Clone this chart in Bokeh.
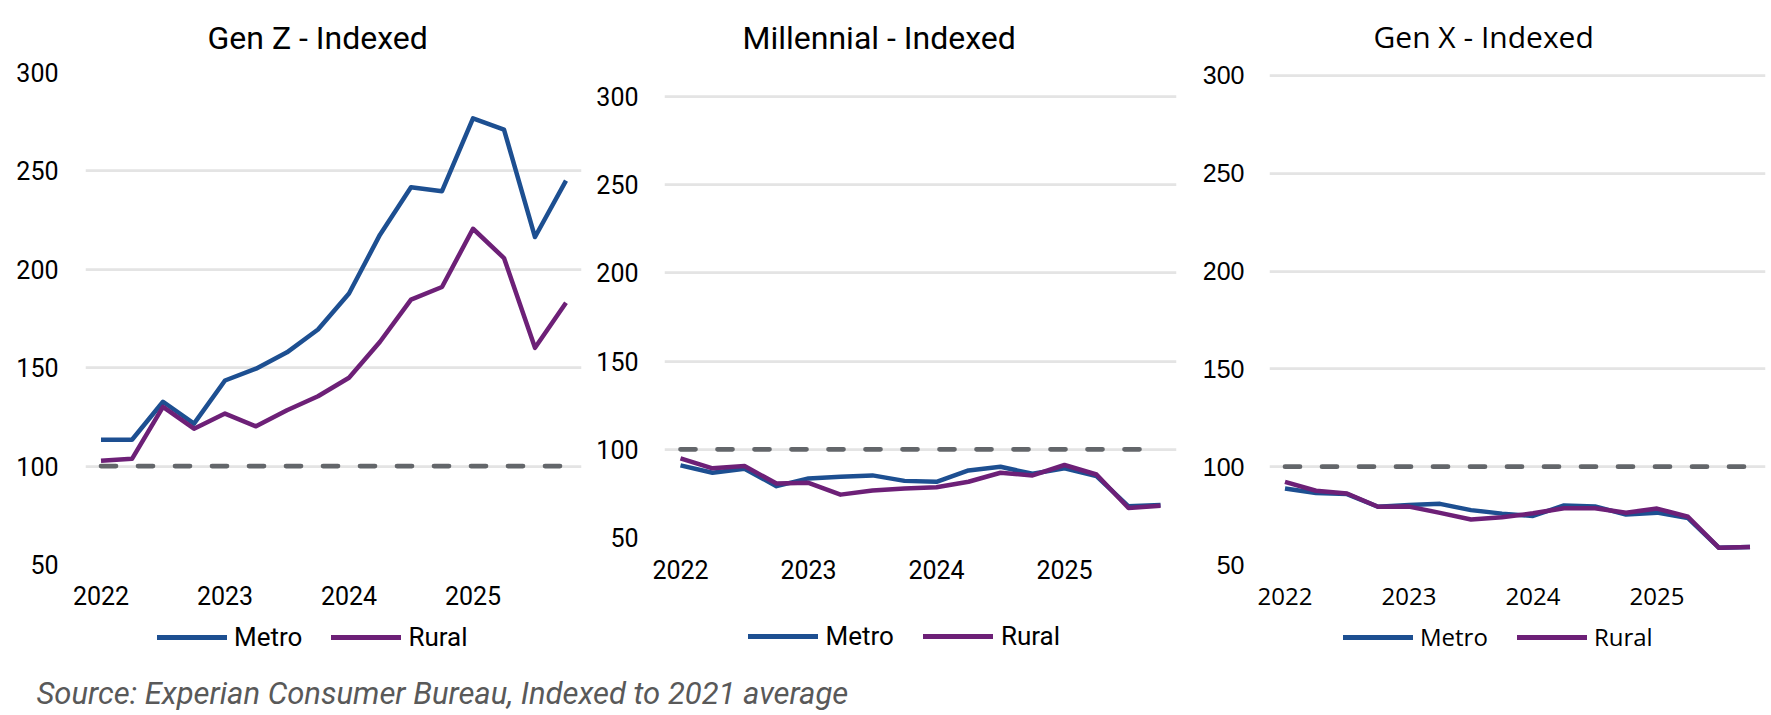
from bokeh.plotting import figure
from bokeh.models import Range1d, FixedTicker, Legend, LegendItem, Title, Label
from bokeh.layouts import row, column
from bokeh.embed import file_html
from bokeh.resources import INLINE

quarters = ["2022 Q1", "2022 Q2", "2022 Q3", "2022 Q4",
            "2023 Q1", "2023 Q2", "2023 Q3", "2023 Q4",
            "2024 Q1", "2024 Q2", "2024 Q3", "2024 Q4",
            "2025 Q1", "2025 Q2", "2025 Q3", "2025 Q4"]
year_ticks = [0, 4, 8, 12]
year_labels = ["2022", "2023", "2024", "2025"]
y_ticks = [50, 100, 150, 200, 250, 300]

genz_metro = [113.4, 113.4, 132.7, 121.6, 143.5, 149.5, 157.8, 169.4,
              187.7, 217.6, 241.7, 239.7, 276.7, 271.0, 216.4, 245.1]
genz_rural = [102.7, 103.7, 130.1, 119.0, 126.7, 120.2, 128.4, 135.5,
              144.9, 163.2, 184.6, 191.0, 220.6, 205.7, 160.1, 183.0]

mill_metro = [90.9, 86.7, 89.0, 79.1, 83.5, 84.4, 85.2, 82.1,
              81.6, 88.0, 90.1, 86.1, 89.2, 84.8, 67.7, 68.4]
mill_rural = [94.9, 89.2, 90.5, 80.6, 81.0, 74.3, 76.6, 77.8,
              78.5, 81.6, 86.7, 85.2, 91.1, 85.7, 66.7, 68.0]

genx_metro = [88.9, 86.5, 86.0, 79.5, 80.4, 81.0, 77.8, 76.0,
              74.8, 80.2, 79.7, 75.5, 76.5, 73.7, 58.5, 59.0]
genx_rural = [92.2, 87.7, 86.3, 79.5, 79.6, 76.4, 73.0, 74.1,
              76.2, 78.8, 78.8, 76.5, 78.6, 74.4, 58.5, 59.0]

baseline = [100, 100, 100, 100, 100, 100, 100, 100,
            100, 100, 100, 100, 100, 100, 100, 100]

series_names = ["Metro", "Rural"]
source_text = "Source: Experian Consumer Bureau, Indexed to 2021 average"

METRO = "#1D4F91"
RURAL = "#6D2077"
GREY = "#63666A"
GRID = "#E4E4E4"


def panel(title, metro, rural, fw, fh, ytop, bl, br, bt, bb,
          title_font, title_size, title_offset, title_standoff,
          ytick_font, ytick_size, xtick_font, xtick_size,
          y_standoff, x_standoff):
    xs = list(range(len(quarters)))
    p = figure(frame_width=fw, frame_height=fh, output_backend="svg",
               toolbar_location=None,
               x_range=Range1d(-0.5, len(quarters) - 0.5),
               y_range=Range1d(50, ytop),
               min_border_left=bl, min_border_right=br,
               min_border_top=bt, min_border_bottom=bb)
    p.title.text = ""
    p.title.visible = False
    p.outline_line_color = None
    p.background_fill_color = "white"
    p.border_fill_color = "white"
    p.xgrid.grid_line_color = None
    p.ygrid.grid_line_color = GRID
    p.ygrid.grid_line_width = 2.75
    p.yaxis.ticker = FixedTicker(ticks=y_ticks)
    p.xaxis.ticker = FixedTicker(ticks=year_ticks)
    p.xaxis.major_label_overrides = {t: l for t, l in zip(year_ticks, year_labels)}
    for ax in (p.xaxis, p.yaxis):
        ax.axis_line_color = None
        ax.major_tick_line_color = None
        ax.minor_tick_line_color = None
        ax.major_tick_out = 0
        ax.major_tick_in = 0
    p.yaxis.major_label_text_font = ytick_font
    p.yaxis.major_label_text_font_size = ytick_size
    p.yaxis.major_label_text_color = "#000000"
    p.yaxis.major_label_standoff = y_standoff
    p.xaxis.major_label_text_font = xtick_font
    p.xaxis.major_label_text_font_size = xtick_size
    p.xaxis.major_label_text_color = "#000000"
    p.xaxis.major_label_standoff = x_standoff

    p.add_layout(Title(text=title, align="left", vertical_align="top",
                       text_font=title_font, text_font_size=title_size,
                       text_font_style="normal", text_color="#000000",
                       standoff=title_standoff, offset=title_offset), "above")

    p.line(xs, baseline, line_color=GREY, line_width=4.7,
           line_dash="15 22", line_cap="round")
    p.line(xs, metro, line_color=METRO, line_width=4.5, line_join="round")
    p.line(xs, rural, line_color=RURAL, line_width=4.5, line_join="round")
    return p


p1 = panel("Gen Z - Indexed", genz_metro, genz_rural, 496, 492, 300, 85, 9, 72, 56,
           "Roboto", "32px", 122, 28,
           "Roboto", "25px", "Roboto", "25px", 27, 21)
p2 = panel("Millennial - Indexed", mill_metro, mill_rural, 512, 465, 313.6, 74, 19, 72, 83,
           "Roboto", "32px", 78, 28,
           "Roboto", "25px", "Roboto", "25px", 26, 22)
p3 = panel("Gen X - Indexed", genx_metro, genx_rural, 496, 492, 301.5, 74, 6, 72, 56,
           "Open Sans", "30px", 104, 27,
           "Liberation Sans", "25px", "Open Sans", "24px", 25, 23)

# bottom strip: legends for the three panels and the source note
pb = figure(width=1771, height=95, output_backend="svg", toolbar_location=None,
            title_location=None, x_axis_location=None, y_axis_location=None,
            x_range=Range1d(0, 1), y_range=Range1d(0, 1),
            min_border=0, min_border_left=0, min_border_right=0,
            min_border_top=0, min_border_bottom=0)
pb.outline_line_color = None
pb.background_fill_color = "white"
pb.border_fill_color = "white"
pb.xgrid.visible = False
pb.ygrid.visible = False
pb.grid.grid_line_color = None
# legend keys: the Gen Z series, which fall outside this strip's view
qx = list(range(len(quarters)))
rm = pb.line(qx, genz_metro, line_color=METRO, line_width=5, line_cap="round")
rr = pb.line(qx, genz_rural, line_color=RURAL, line_width=5, line_cap="round")

legend_specs = [
    # x, y (screen px from the strip's bottom-left), font, size, standoff
    (157, 62.8, "Roboto", "26px", 7),
    (747.5, 63.8, "Roboto", "26px", 8),
    (1343, 61.7, "Open Sans", "24px", 7),
]
for lx, ly, lf, ls, lst in legend_specs:
    leg = Legend(items=[LegendItem(label=series_names[0], renderers=[rm]),
                        LegendItem(label=series_names[1], renderers=[rr])],
                 orientation="horizontal", location=(lx, ly),
                 glyph_width=70, glyph_height=20, label_standoff=lst,
                 spacing=29, padding=0, margin=0,
                 border_line_color=None, background_fill_alpha=0,
                 label_text_font=lf, label_text_font_size=ls,
                 label_text_color="#000000")
    pb.add_layout(leg, "center")

pb.add_layout(Label(x=36, y=22, x_units="screen", y_units="screen",
                    text=source_text, text_font="Roboto", text_font_size="31px",
                    text_font_style="italic", text_color="#595959",
                    text_align="left", text_baseline="middle"))

layout = column(row(p1, p2, p3), pb)

html = file_html(layout, INLINE)
html = html.replace("</head>", "<style>html,body{overflow:hidden;}</style></head>", 1)
open("out.html", "w").write(html)
